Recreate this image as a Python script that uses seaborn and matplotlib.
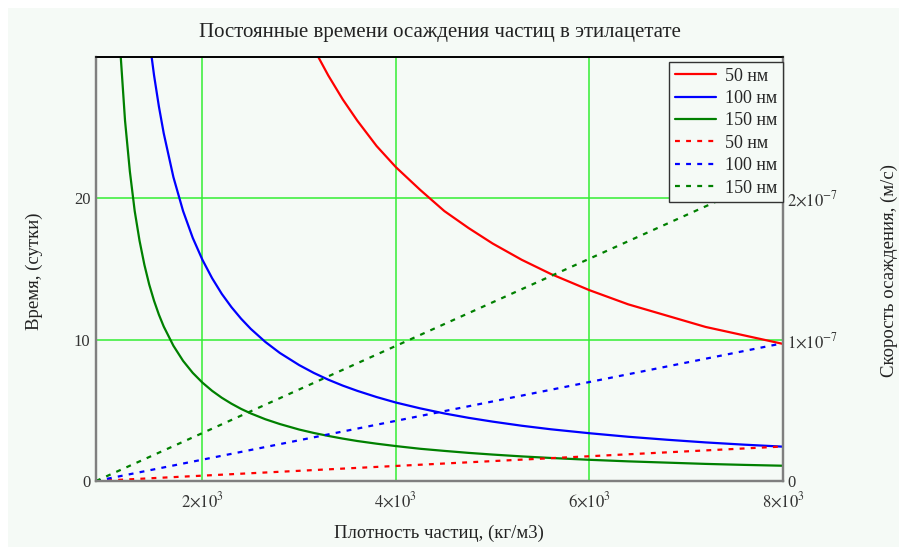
import numpy as np
import pandas as pd
import seaborn as sns
import matplotlib.pyplot as plt
from matplotlib.patches import Rectangle
from matplotlib.lines import Line2D

# Tema base do seaborn, sem grade padrão
sns.set_theme(style='white')
plt.rcParams['font.family'] = ['Liberation Serif', 'DejaVu Serif']
plt.rcParams['mathtext.fontset'] = 'stix'

# Densidade das partículas (кг/м3)
densidade = [1000, 1050, 1100, 1150, 1200, 1250, 1300, 1350, 1400, 1450, 1500,
             1550, 1600, 1700, 1800, 1900, 2000, 2100, 2200, 2300, 2400, 2500,
             2650, 2800, 3000, 3150, 3300, 3450, 3600, 3800, 4000, 4250, 4500,
             4750, 5000, 5300, 5600, 6000, 6400, 6800, 7200, 7600, 8000]

# Tempo de sedimentação (сутки)
tempo_50 = [688.7, 459.1, 344.4, 275.5, 229.6, 196.8, 172.2, 153.0, 137.7, 125.2, 114.8,
            106.0, 98.4, 86.1, 76.5, 68.9, 62.6, 57.4, 53.0, 49.2, 45.9, 43.0,
            39.4, 36.2, 32.8, 30.6, 28.7, 27.0, 25.5, 23.7, 22.2, 20.6, 19.1,
            17.9, 16.8, 15.65, 14.65, 13.5, 12.5, 11.7, 10.9, 10.3, 9.7]
tempo_100 = [172.2, 114.8, 86.1, 68.9, 57.4, 49.2, 43.0, 38.3, 34.4, 31.3, 28.7,
             26.5, 24.6, 21.5, 19.1, 17.2, 15.65, 14.35, 13.24, 12.30, 11.48, 10.76,
             9.84, 9.06, 8.20, 7.65, 7.17, 6.75, 6.38, 5.94, 5.55, 5.14, 4.78,
             4.47, 4.20, 3.91, 3.66, 3.38, 3.13, 2.92, 2.73, 2.57, 2.43]
tempo_150 = [76.5, 51.0, 38.3, 30.6, 25.5, 21.9, 19.1, 17.0, 15.3, 13.9, 12.75,
             11.77, 10.93, 9.57, 8.50, 7.65, 6.96, 6.38, 5.89, 5.47, 5.10, 4.78,
             4.37, 4.03, 3.64, 3.40, 3.19, 3.00, 2.83, 2.64, 2.47, 2.28, 2.13,
             1.99, 1.87, 1.74, 1.63, 1.50, 1.39, 1.30, 1.21, 1.14, 1.08]

# Velocidade de sedimentação (м/с) - retas
densidade_v = [900, 8000]
vel_50 = [0.0, 0.244e-7]
vel_100 = [0.0, 0.975e-7]
vel_150 = [0.0, 2.19e-7]

rotulos = ['50 нм', '100 нм', '150 нм']
cores = ['#ff0000', '#0000ff', '#008000']

fundo = '#f5faf6'
pontilhado = (0, (2.2, 2.8))

fig = plt.figure(figsize=(8.99, 5.47), dpi=100)
fig.patch.set_facecolor('white')
# Retângulo de fundo levemente esverdeado
fig.patches.append(Rectangle((8 / 899, 0), 1, 1 - 8 / 547, transform=fig.transFigure,
                             facecolor=fundo, edgecolor='none', zorder=-10))

ax = fig.add_axes([96 / 899, 1 - 481 / 547, (783 - 96) / 899, (481 - 57) / 547])
ax.set_facecolor(fundo)

# Curvas de tempo (eixo esquerdo)
for y, cor in zip([tempo_50, tempo_100, tempo_150], cores):
    df = pd.DataFrame({'x': densidade, 'y': y})
    sns.lineplot(data=df, x='x', y='y', ax=ax, color=cor, linewidth=1.6)

ax.set_xlim(900, 8000)
ax.set_ylim(0, 30)
ax.set_xticks([2000, 4000, 6000, 8000])
ax.set_xticklabels([r'$2{\times}10^{3}$', r'$4{\times}10^{3}$', r'$6{\times}10^{3}$', r'$8{\times}10^{3}$'])
ax.set_yticks([0, 10, 20])
ax.set_yticklabels(['0', '10', '20'])
ax.tick_params(axis='both', labelsize=12, colors='#333333', length=0, pad=4)
ax.tick_params(axis='x', pad=7)
ax.set_xlabel('')
ax.set_ylabel('')

# Grade verde
for gx in [2000, 4000, 6000]:
    ax.axvline(gx, color='#33ee33', linewidth=1.1, zorder=0)
for gy in [10, 20]:
    ax.axhline(gy, color='#33ee33', linewidth=1.1, zorder=0)

# Eixo direito para velocidade
ax2 = ax.twinx()
for y, cor in zip([vel_50, vel_100, vel_150], cores):
    df = pd.DataFrame({'x': densidade_v, 'y': y})
    sns.lineplot(data=df, x='x', y='y', ax=ax2, color=cor, linewidth=1.6,
                 linestyle=pontilhado)
ax2.set_ylim(0, 3e-7)
ax2.set_yticks([0, 1e-7, 2e-7])
ax2.set_yticklabels(['0', r'$1{\times}10^{-7}$', r'$2{\times}10^{-7}$'])
ax2.tick_params(axis='y', labelsize=12, colors='#333333', length=0, pad=3)
ax2.set_ylabel('')

for a in [ax, ax2]:
    for lado in ['left', 'bottom', 'right']:
        a.spines[lado].set_color('#7f7f7f')
        a.spines[lado].set_linewidth(1.6)
    a.spines['top'].set_color('black')
    a.spines['top'].set_linewidth(1.2)

# Legenda com linhas contínuas e pontilhadas
handles = []
for cor, rot in zip(cores, rotulos):
    handles.append(Line2D([], [], color=cor, linewidth=1.6, label=rot))
for cor, rot in zip(cores, rotulos):
    handles.append(Line2D([], [], color=cor, linewidth=1.6, linestyle=pontilhado, label=rot))
leg = ax2.legend(handles=handles, loc='upper right', bbox_to_anchor=(1.0, 0.988),
                 fontsize=13, frameon=True, fancybox=False, framealpha=1,
                 edgecolor='#333333', facecolor=fundo, handlelength=2.3,
                 handletextpad=0.5, borderpad=0.3, labelspacing=0.3, borderaxespad=0)
leg.get_frame().set_linewidth(1.0)

# Títulos e rótulos dos eixos
fig.text(440 / 899, 1 - 33 / 547, 'Постоянные времени осаждения частиц в этилацетате',
         ha='center', va='center', fontsize=15, color='#222222')
fig.text(439 / 899, 1 - 533 / 547, 'Плотность частиц, (кг/м3)',
         ha='center', va='center', fontsize=13.5, color='#222222')
fig.text(34 / 899, 1 - 271 / 547, 'Время, (сутки)', rotation=90,
         ha='center', va='center', fontsize=13.5, color='#222222')
fig.text(889 / 899, 1 - 270 / 547, 'Скорость осаждения, (м/с)', rotation=90,
         ha='center', va='center', fontsize=13.5, color='#222222')

fig.savefig('out.png', dpi=100)
